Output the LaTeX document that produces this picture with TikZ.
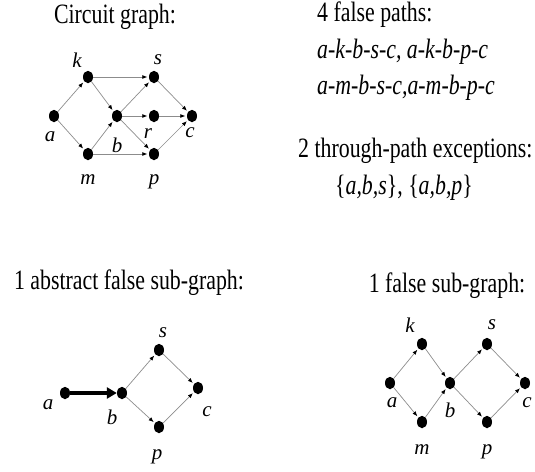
\documentclass[tikz,border=0pt]{standalone}
\usepackage{fontspec}
\usepackage{graphicx}
\setmainfont{Liberation Serif}
\usetikzlibrary{arrows.meta,shapes.geometric}

\newcommand{\cond}[1]{\scalebox{0.78}[1]{#1}}

\begin{document}
\begin{tikzpicture}[x=1pt,y=-1pt]
\useasboundingbox (0,0) rectangle (535,471);

\tikzstyle{vertex}=[ellipse,fill=black,inner sep=0pt,minimum width=10pt,minimum height=12.5pt]
\tikzstyle{arc}=[draw=black!45,line width=0.7pt,-{Latex[black,length=5pt,width=4pt]},shorten >=1.5pt]
\tikzstyle{lbl}=[inner sep=0pt,font=\fontsize{21}{24}\selectfont\itshape]
\tikzstyle{txt}=[inner sep=0pt,font=\fontsize{28}{32}\selectfont]

% circuit graph
\node[txt] (title1) at (115,17) {\cond{Circuit graph:}};
\node[vertex] (a1) at (54,116) {};
\node[vertex] (k1) at (88,77) {};
\node[vertex] (m1) at (88,154) {};
\node[vertex] (b1) at (117,116) {};
\node[vertex] (s1) at (154,77) {};
\node[vertex] (r1) at (154,116) {};
\node[vertex] (p1) at (154,154) {};
\node[vertex] (c1) at (192,116) {};
\node[lbl] (la1) at (50,137) {a};
\node[lbl] (lk1) at (77,60) {k};
\node[lbl] (lm1) at (88,180) {m};
\node[lbl] (lb1) at (117,145) {b};
\node[lbl] (ls1) at (158,60) {s};
\node[lbl] (lr1) at (148,134) {r};
\node[lbl] (lp1) at (154,182) {p};
\node[lbl] (lc1) at (190,133) {c};
\draw[arc] (a1) -- (k1);
\draw[arc] (a1) -- (m1);
\draw[arc] (k1) -- (s1);
\draw[arc] (k1) -- (b1);
\draw[arc] (m1) -- (b1);
\draw[arc] (m1) -- (p1);
\draw[arc] (b1) -- (s1);
\draw[arc] (b1) -- (r1);
\draw[arc] (b1) -- (p1);
\draw[arc] (s1) -- (c1);
\draw[arc] (r1) -- (c1);
\draw[arc] (p1) -- (c1);

% false paths and exceptions
\node[txt,anchor=west] (fp) at (317,15) {\cond{4 false paths:}};
\node[txt,anchor=west] (fp1) at (317,52) {\cond{\itshape a-k-b-s-c, a-k-b-p-c}};
\node[txt,anchor=west] (fp2) at (317,88) {\cond{\itshape a-m-b-s-c,a-m-b-p-c}};
\node[txt,anchor=west] (ex) at (298,151) {\cond{2 through-path exceptions:}};
\node[txt] (ex1) at (404,188) {\cond{\{\textit{a,b,s}\}, \{\textit{a,b,p}\}}};

% abstract false sub-graph
\node[txt] (title2) at (129,283) {\cond{1 abstract false sub-graph:}};
\node[vertex] (a2) at (65,393) {};
\node[vertex] (b2) at (122,393) {};
\node[vertex] (s2) at (159,350) {};
\node[vertex] (p2) at (159,427) {};
\node[vertex] (c2) at (198,388) {};
\node[lbl] (la2) at (48,405) {a};
\node[lbl] (lb2) at (112,417) {b};
\node[lbl] (ls2) at (163,333) {s};
\node[lbl] (lp2) at (157,457) {p};
\node[lbl] (lc2) at (207,412) {c};
\draw[line width=3.5pt,-{Triangle[length=10pt,width=11pt]}] (a2) -- (b2);
\draw[arc] (b2) -- (s2);
\draw[arc] (b2) -- (p2);
\draw[arc] (s2) -- (c2);
\draw[arc] (p2) -- (c2);

% false sub-graph
\node[txt] (title3) at (447,286) {\cond{1 false sub-graph:}};
\node[vertex] (a3) at (390,383) {};
\node[vertex] (k3) at (422,344) {};
\node[vertex] (m3) at (422,422) {};
\node[vertex] (b3) at (450,383) {};
\node[vertex] (s3) at (487,344) {};
\node[vertex] (p3) at (487,422) {};
\node[vertex] (c3) at (525,383) {};
\node[lbl] (la3) at (392,403) {a};
\node[lbl] (lk3) at (410,325) {k};
\node[lbl] (lm3) at (422,450) {m};
\node[lbl] (lb3) at (450,410) {b};
\node[lbl] (ls3) at (492,325) {s};
\node[lbl] (lp3) at (487,452) {p};
\node[lbl] (lc3) at (527,403) {c};
\draw[arc] (a3) -- (k3);
\draw[arc] (a3) -- (m3);
\draw[arc] (k3) -- (b3);
\draw[arc] (m3) -- (b3);
\draw[arc] (b3) -- (s3);
\draw[arc] (b3) -- (p3);
\draw[arc] (s3) -- (c3);
\draw[arc] (p3) -- (c3);

\end{tikzpicture}
\end{document}
